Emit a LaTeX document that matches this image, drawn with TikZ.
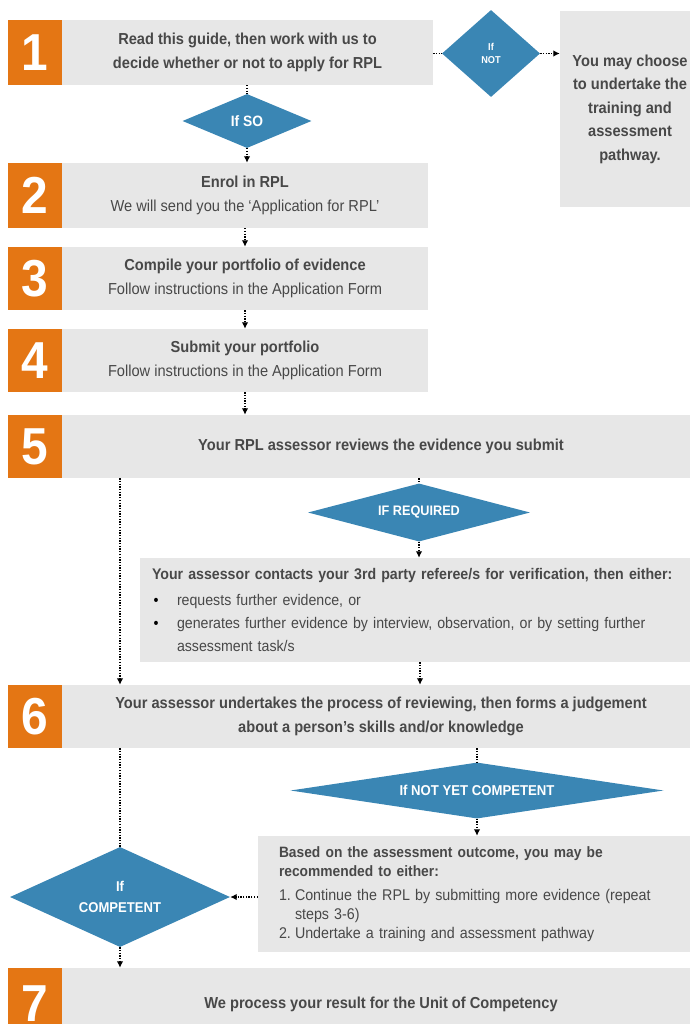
\documentclass[tikz,border=0pt]{standalone}
\usepackage{fontspec}
\setmainfont{Liberation Sans}[FakeStretch=0.92]
\usetikzlibrary{shapes.geometric,arrows.meta}
\definecolor{stepor}{RGB}{228,118,20}
\definecolor{boxgr}{RGB}{231,231,231}
\definecolor{dblue}{RGB}{58,134,180}
\definecolor{txt}{RGB}{72,72,72}
\newcommand\fsmain{\fontsize{15.9}{23.5}\selectfont}
\newcommand\fsver{\fontsize{15.4}{23}\selectfont}
\newcommand\fsbased{\fontsize{15.5}{18.7}\selectfont}
\newcommand\fsbasedb{\fontsize{15}{18.7}\selectfont\bfseries}
\tikzset{
  gbox/.style={fill=boxgr, draw=none, inner sep=0pt, text=txt, align=center, font=\fsmain},
  obox/.style={fill=stepor, draw=none, inner sep=0pt, text=white, minimum width=54pt,
    font=\fontsize{52}{52}\selectfont\bfseries},
  dia/.style={diamond, fill=dblue, draw=none, inner sep=0pt, text=white, align=center},
  dotl/.style={line width=1.3pt, dash pattern=on 1.3pt off 1.4pt, black},
  arr/.style={dotl, -{Latex[length=6.5pt,width=6.5pt]}},
}
\begin{document}
\begin{tikzpicture}[x=1pt,y=-1pt]
\useasboundingbox (0,0) rectangle (689,1024);
% ---------- step 1
\node[gbox, minimum width=371pt, minimum height=65pt, font=\fsmain\bfseries] (b1) at (247.5,52.5)
  {Read this guide, then work with us to\\decide whether or not to apply for RPL};
\node[obox, minimum height=65pt] (o1) at (35,52.5) {1};
\node[dia, aspect=1.13, minimum width=98pt, minimum height=87pt, font=\fontsize{10}{13}\selectfont\bfseries] (nt) at (491,53.5) {If\\NOT};
\node[gbox, minimum width=140pt, minimum height=196pt, font=\fsmain\bfseries] (rb) at (630,109)
  {You may choose\\to undertake the\\training and\\assessment\\pathway.};
\node[dia, aspect=2.39, minimum width=129pt, minimum height=54pt, font=\fontsize{15}{15}\selectfont\bfseries] (so) at (247,121) {If SO};
% ---------- step 2-4
\node[gbox, minimum width=366pt, minimum height=65pt] (b2) at (245,195.5)
  {\textbf{Enrol in RPL}\\We will send you the ‘Application for RPL’};
\node[obox, minimum height=65pt] (o2) at (35,195.5) {2};
\node[gbox, minimum width=366pt, minimum height=63pt] (b3) at (245,278.5)
  {\textbf{Compile your portfolio of evidence}\\Follow instructions in the Application Form};
\node[obox, minimum height=63pt] (o3) at (35,278.5) {3};
\node[gbox, minimum width=366pt, minimum height=63pt] (b4) at (245,360.5)
  {\textbf{Submit your portfolio}\\Follow instructions in the Application Form};
\node[obox, minimum height=63pt] (o4) at (35,360.5) {4};
% ---------- step 5
\node[gbox, minimum width=638pt, minimum height=63pt, font=\fsmain\bfseries] (b5) at (381,446.5)
  {Your RPL assessor reviews the evidence you submit};
\node[obox, minimum height=63pt] (o5) at (35,446.5) {5};
\node[dia, aspect=3.83, minimum width=222pt, minimum height=58pt, font=\fontsize{13.8}{14}\selectfont\bfseries] (req) at (419,512.5) {IF REQUIRED};
\node[gbox, minimum width=560pt, minimum height=104pt, text width=536pt, inner xsep=12pt, align=left, font=\fsver] (ver) at (420,610)
  {\textbf{Your assessor contacts your 3rd party referee/s for verification, then either:}\\[3pt]
   \hspace*{1.5pt}\makebox[23.5pt][l]{\textcolor{black}{\textbullet}}requests further evidence, or\\
   \hspace*{1.5pt}\makebox[23.5pt][l]{\textcolor{black}{\textbullet}}generates further evidence by interview, observation, or by setting further\\
   \hspace*{25pt}assessment task/s};
% ---------- step 6
\node[gbox, minimum width=638pt, minimum height=63pt, font=\fsmain\bfseries] (b6) at (381,716.5)
  {Your assessor undertakes the process of reviewing, then forms a judgement\\about a person’s skills and/or knowledge};
\node[obox, minimum height=63pt] (o6) at (35,716.5) {6};
\node[dia, aspect=6.66, minimum width=373pt, minimum height=56pt, font=\fontsize{14.3}{14}\selectfont\bfseries] (nyc) at (477,790.5) {If NOT YET COMPETENT};
\node[gbox, minimum width=442pt, minimum height=116pt, text width=400pt, inner xsep=21pt, align=left, font=\fsbased] (based) at (479,894)
  {{\fsbasedb Based on the assessment outcome, you may be}\\
   {\fsbasedb recommended to either:}\\[6pt]
   \makebox[16pt][l]{1.}Continue the RPL by submitting more evidence (repeat\\
   \hspace*{16pt}steps 3-6)\\
   \makebox[16pt][l]{2.}Undertake a training and assessment pathway};
\node[dia, aspect=2.2, minimum width=220pt, minimum height=100pt, font=\fontsize{14.2}{21}\selectfont\bfseries] (cmp) at (120,897) {If\\COMPETENT};
% ---------- step 7
\node[gbox, minimum width=638pt, minimum height=72pt, font=\fsmain\bfseries] (b7) at (381,1004)
  {We process your result for the Unit of Competency};
\node[obox, minimum height=72pt] (o7) at (35,1004) {7};
% ---------- connectors
\draw[dotl] (b1.east |- nt.west) -- (nt.west);
\draw[arr] (nt.east) -- (rb.west |- nt.east);
\draw[dotl] (b1.south -| so.north) -- (so.north);
\draw[arr] (so.south) -- (b2.north -| so.south);
\draw[arr] (b2.south) -- (b3.north);
\draw[arr] (b3.south) -- (b4.north);
\draw[arr] (b4.south) -- (b5.north -| b4.south);
\draw[dotl] (b5.south -| req.north) -- (req.north);
\draw[arr] (req.south) -- (ver.north -| req.south);
\draw[arr] (ver.south) -- (b6.north -| ver.south);
\draw[arr] (b5.south -| cmp.north) -- (b6.north -| cmp.north);
\draw[dotl] (b6.south -| cmp.north) -- (cmp.north);
\draw[dotl] (b6.south -| nyc.north) -- (nyc.north);
\draw[arr] (nyc.south) -- (based.north -| nyc.south);
\draw[arr] (based.west |- cmp.east) -- (cmp.east);
\draw[arr] (cmp.south) -- (b7.north -| cmp.south);
\end{tikzpicture}
\end{document}
